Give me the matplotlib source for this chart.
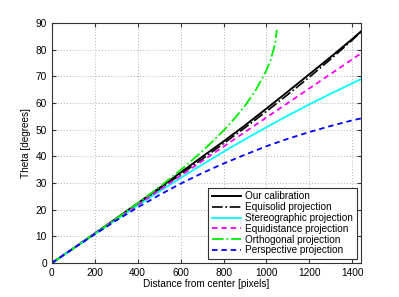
import matplotlib
matplotlib.use("Agg")
import matplotlib.pyplot as plt

# distance from center [pixels]
r = [0, 100, 200, 300, 400, 500, 600, 700, 800, 900, 1000, 1100, 1200, 1300, 1400, 1440]
r_ortho = [0, 100, 200, 300, 400, 500, 600, 700, 800, 850, 900, 950, 1000, 1020, 1040, 1048]

# theta [degrees]
our_calib = [0, 5.5, 11.1, 16.7, 22.4, 28.1, 33.9, 39.8, 45.6, 51.6, 57.9, 64.3, 70.8, 77.3, 84.0, 86.8]
equisolid = [0, 5.46, 10.93, 16.43, 21.96, 27.55, 33.2, 38.94, 44.79, 50.75, 56.87, 63.18, 69.7, 76.5, 83.62, 86.6]
stereographic = [0, 5.45, 10.88, 16.26, 21.57, 26.79, 31.89, 36.87, 41.71, 46.4, 50.93, 55.29, 59.49, 63.52, 67.38, 68.9]
equidistance = [0, 5.46, 10.91, 16.37, 21.83, 27.28, 32.74, 38.2, 43.65, 49.11, 54.57, 60.02, 65.48, 70.94, 76.4, 78.6]
orthogonal = [0, 5.46, 10.98, 16.6, 22.39, 28.44, 34.85, 41.81, 49.63, 54.05, 59.0, 64.78, 72.25, 76.27, 82.09, 87.4]
perspective = [0, 5.44, 10.78, 15.95, 20.85, 25.46, 29.74, 33.69, 37.3, 40.6, 43.8, 46.6, 49.1, 51.4, 53.5, 54.2]

plt.rcParams['font.family'] = ['Liberation Sans', 'DejaVu Sans']

fig = plt.figure(figsize=(3.99, 2.97), dpi=100)
ax = fig.add_axes([0.130, 0.1145, 0.7744, 0.808])

ax.plot(r, our_calib, color='k', lw=1.4, label='Our calibration')
ax.plot(r, equisolid, color='k', lw=1.2, ls='-.', label='Equisolid projection')
ax.plot(r, stereographic, color='cyan', lw=1.3, label='Stereographic projection')
ax.plot(r, equidistance, color='magenta', lw=1.3, ls='--', dashes=(3, 2.2),
        label='Equidistance projection')
ax.plot(r_ortho, orthogonal, color='#00ee00', lw=1.3, ls='-.', label='Orthogonal projection')
ax.plot(r, perspective, color='blue', lw=1.3, ls='--', dashes=(3, 2.2),
        label='Perspective projection')

ax.set_xlim(0, 1440)
ax.set_ylim(0, 90)
ax.set_xticks(range(0, 1401, 200))
ax.set_yticks(range(0, 91, 10))
ax.tick_params(direction='in', labelsize=7.3, length=3, top=True, right=True,
               color='#333333')
ax.grid(True, ls=(0, (1, 2.5)), color='#999999', lw=0.6)
for s in ax.spines.values():
    s.set_color('#333333')

ax.set_xlabel('Distance from center [pixels]', fontsize=7.2, labelpad=1)
ax.set_ylabel('Theta [degrees]', fontsize=7.2, labelpad=3)

leg = ax.legend(loc='lower right', fontsize=7.2, labelspacing=0.08, handlelength=2.9,
                handletextpad=0.45, borderpad=0.35, fancybox=False, framealpha=1,
                edgecolor='#333333', borderaxespad=0.4)
leg.get_frame().set_linewidth(0.8)

fig.savefig('out.png', dpi=100)
